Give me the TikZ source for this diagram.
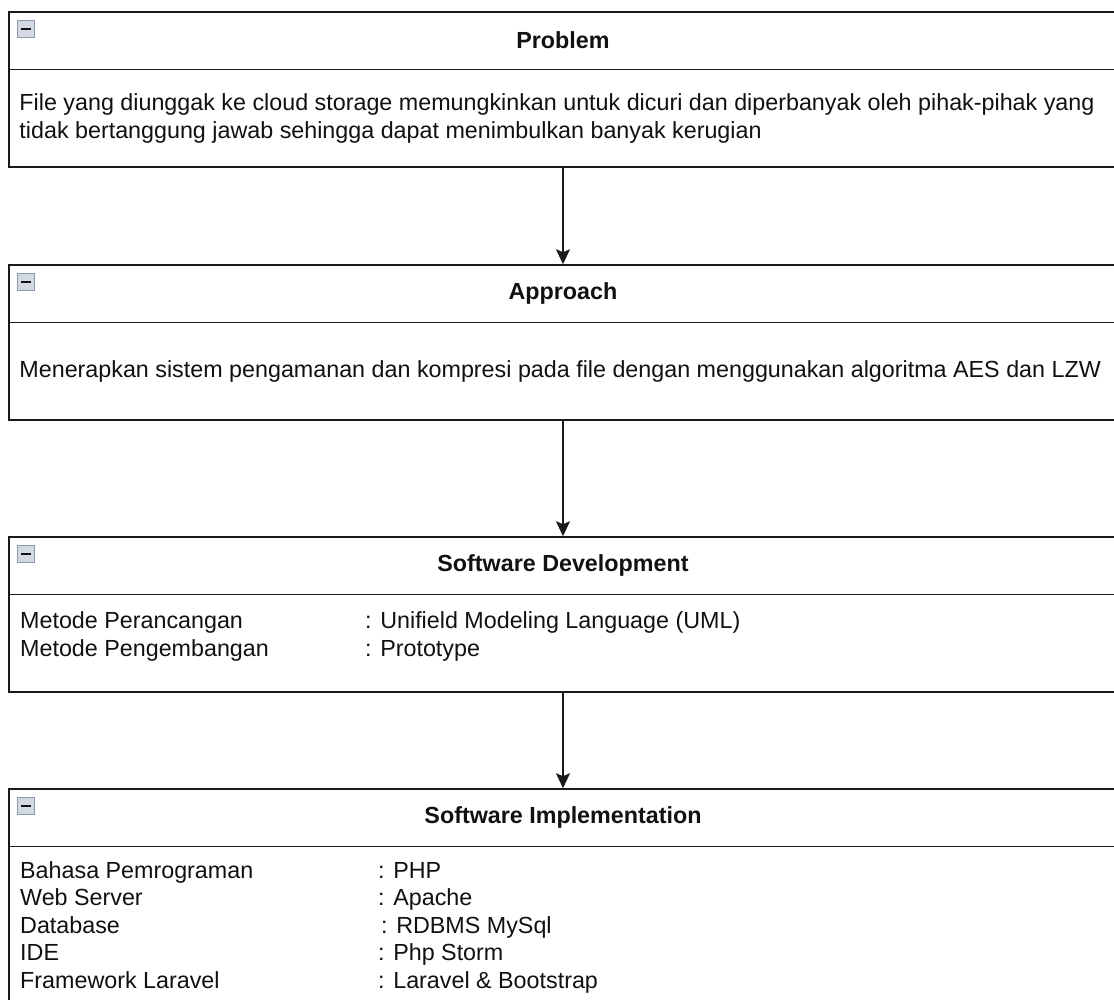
\documentclass[tikz,border=0pt]{standalone}
\usepackage{fontspec}
\setmainfont{Liberation Sans}
\usepackage{tikz}
\usetikzlibrary{arrows.meta,positioning,calc}
\definecolor{umlline}{HTML}{1A1A1A}
\definecolor{umltext}{HTML}{111111}
\definecolor{iconfill}{HTML}{D3D9E3}
\definecolor{icondraw}{HTML}{8C99AD}
\tikzset{
  lane/.style={draw=umlline,line width=1.5pt,minimum width=1108pt,minimum height=155pt,inner sep=0pt},
  sep/.style={draw=umlline,line width=1.5pt},
  head/.style={font=\fontsize{23.3}{28}\selectfont\bfseries,text=umltext,inner sep=0pt},
  txt/.style={font=\fontsize{23.3}{28}\selectfont,text=umltext,inner sep=0pt,align=left},
  icon/.style={draw=icondraw,fill=iconfill,minimum size=17pt,inner sep=0pt,line width=0.8pt,
    path picture={\draw[umltext,line width=2pt] ([xshift=-5pt]path picture bounding box.center) -- ([xshift=5pt]path picture bounding box.center);}},
  ar/.style={-{Stealth[length=15pt,width=14pt,inset=3pt]},draw=umlline,line width=1.5pt},
}
\begin{document}
\begin{tikzpicture}[x=1pt,y=-1pt]
  \clip (0,0) rectangle (1114,999);
  \fill[white] (0,0) rectangle (1114,999);
  % the four lanes
  \node[lane] (problem) at (563,89.5) {};
  \node[lane] (approach) at (563,342.5) {};
  \node[lane] (devel) at (563,614.5) {};
  \node[lane,minimum height=260pt] (impl) at (563,919) {};
  % header strip, title and collapse icon of each lane
  \foreach \id/\hd in {problem/Problem, approach/Approach, devel/Software Development, impl/Software Implementation} {
    \draw[sep] ([yshift=-58pt]\id.north west) -- ([yshift=-58pt]\id.north east);
    \node[head] (\id-head) at ([yshift=-29pt]\id.north) {\hd};
    \node[icon] (\id-icon) at ([xshift=18pt,yshift=-17.5pt]\id.north west) {};
  }
  % lane contents
  \node[txt,anchor=west] (problem-body) at ([xshift=11pt,yshift=-29pt]problem.west)
    {File yang diunggak ke cloud storage memungkinkan untuk dicuri dan diperbanyak oleh pihak-pihak yang\\tidak bertanggung jawab sehingga dapat menimbulkan banyak kerugian};
  \node[txt,anchor=west] (approach-body) at ([xshift=11pt,yshift=-29pt]approach.west)
    {Menerapkan sistem pengamanan dan kompresi pada file dengan menggunakan algoritma AES dan LZW};
  \foreach \y/\x/\k/\v in {628/365/Metode Perancangan/{: Unifield Modeling Language (UML)},
                           656/365/Metode Pengembangan/{: Prototype}} {
    \node[txt,anchor=base west] (devel-k\y) at (20,\y) {\k};
    \node[txt,anchor=base west] (devel-v\y) at (\x,\y) {\v};
  }
  \foreach \y/\x/\k/\v in {878/378/Bahasa Pemrograman/{: PHP},
                           905.5/378/Web Server/{: Apache},
                           933/381/Database/{: RDBMS MySql},
                           960.5/378/IDE/{: Php Storm},
                           988/378/Framework Laravel/{: Laravel \& Bootstrap}} {
    \node[txt,anchor=base west] (impl-k\y) at (20,\y) {\k};
    \node[txt,anchor=base west] (impl-v\y) at (\x,\y) {\v};
  }
  % flow between lanes
  \draw[ar] (problem.south) -- (approach.north);
  \draw[ar] (approach.south) -- (devel.north);
  \draw[ar] (devel.south) -- (impl.north);
\end{tikzpicture}
\end{document}
